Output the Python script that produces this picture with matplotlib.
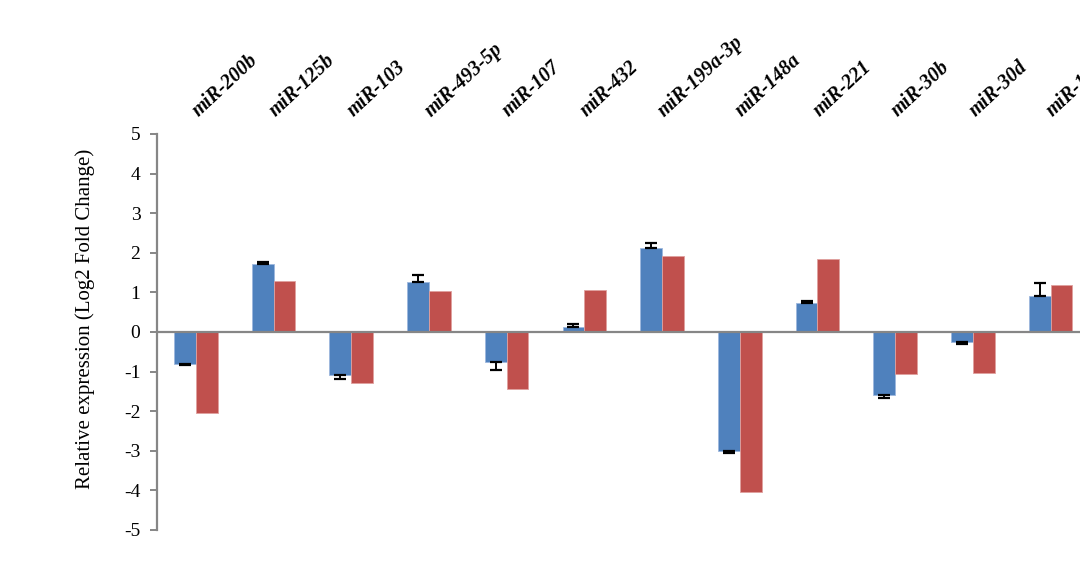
import numpy as np
import matplotlib
matplotlib.use('Agg')
import matplotlib.pyplot as plt

plt.rcParams['font.family'] = ['Liberation Serif', 'DejaVu Serif']
plt.rcParams['axes.unicode_minus'] = False

# miRNA names and log2 fold changes
mirnas = ['miR-200b', 'miR-125b', 'miR-103', 'miR-493-5p', 'miR-107', 'miR-432',
          'miR-199a-3p', 'miR-148a', 'miR-221', 'miR-30b', 'miR-30d', 'miR-181a']
series1 = [-0.81, 1.71, -1.09, 1.27, -0.77, 0.13, 2.12, -3.00, 0.72, -1.60, -0.26, 0.91]
series1_err = [0.02, 0.06, 0.10, 0.17, 0.18, 0.08, 0.12, 0.06, 0.07, 0.06, 0.04, 0.33]
series2 = [-2.05, 1.29, -1.30, 1.04, -1.45, 1.05, 1.92, -4.05, 1.84, -1.05, -1.04, 1.19]

BLUE = '#4F81BD'
RED = '#C0504D'
GRAY = '#868686'

fig = plt.figure(figsize=(10.8, 5.61), dpi=100)
ax = fig.add_axes([157 / 1080, 31 / 561, 12 * 77.7 / 1080, 396 / 561])

x = np.arange(len(mirnas))
w = 0.28
s1 = np.array(series1)
err = np.array(series1_err)
# error bars drawn only away from zero
lower = np.where(s1 < 0, err, 0)
upper = np.where(s1 >= 0, err, 0)

ax.bar(x - w / 2, series1, w, color=BLUE, edgecolor='#9DB7DD', linewidth=0.6, zorder=2)
ax.bar(x + w / 2, series2, w, color=RED, edgecolor='#E0A09E', linewidth=0.6, zorder=2)
ax.errorbar(x - w / 2, s1, yerr=[lower, upper], fmt='none', ecolor='black',
            elinewidth=1.4, capsize=4.5, capthick=1.6, zorder=3)

ax.axhline(0, color=GRAY, lw=1.6, zorder=4)

ax.set_xlim(-0.5, len(mirnas) - 0.5)
ax.set_ylim(-5, 5)
ax.set_yticks(range(-5, 6))
ax.set_xticks([])
for s in ['top', 'right', 'bottom']:
    ax.spines[s].set_visible(False)
ax.spines['left'].set_color(GRAY)
ax.spines['left'].set_linewidth(1.6)
ax.tick_params(axis='y', direction='out', length=5, width=1.4, color=GRAY,
               labelsize=14, pad=7)

for i, name in enumerate(mirnas):
    ax.text(i + 0.03, 5.43, name, rotation=43, rotation_mode='anchor', ha='left',
            va='baseline', fontsize=14.5, fontweight='bold', fontstyle='italic',
            clip_on=False)

fig.text(85 / 1080, 1 - 319 / 561, 'Relative expression (Log2 Fold Change)',
         rotation=90, ha='center', va='center', fontsize=15)

fig.savefig('out.png', dpi=100)
